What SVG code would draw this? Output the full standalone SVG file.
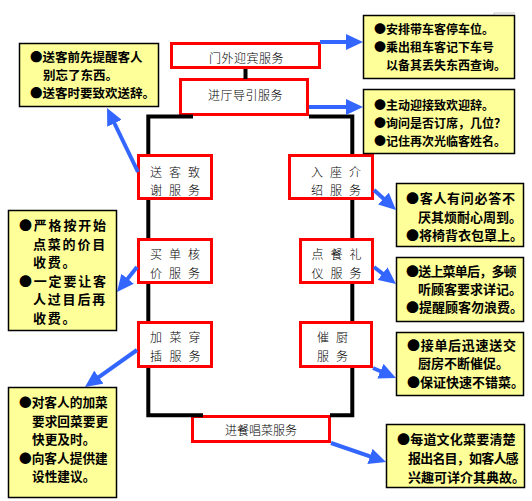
<svg xmlns="http://www.w3.org/2000/svg" width="532" height="501" viewBox="0 0 532 501">
<style>
.svc{fill:#FFFFFF;stroke:#FF0000;stroke-width:3}
.note{fill:#FFFF99;stroke:#000000;stroke-width:1.5}
.lbl{font-family:"Noto Sans CJK SC","Noto Sans CJK JP",sans-serif;font-size:12px;font-weight:300;fill:#000}
.nt{font-family:"Noto Sans CJK SC","Noto Sans CJK JP",sans-serif;font-weight:700;fill:#000}
.flow{fill:none;stroke:#000;stroke-width:4}
.arr{fill:none;stroke:#3366FF;stroke-width:4;marker-end:url(#ah)}
</style>
<defs>
<marker id="ah" markerUnits="userSpaceOnUse" viewBox="0 0 17 16" markerWidth="17" markerHeight="16" refX="7" refY="8" orient="auto">
<path d="M0,0 L17,8 L0,16 z" fill="#3366FF"/>
</marker>
</defs>
<rect width="532" height="501" fill="#FFFFFF"/>
<path d="M494,15 V13 H515" fill="none" stroke="#C8C8C8" stroke-width="1"/>

<g id="svc-menwai"><rect class="svc" x="171.5" y="43.5" width="148" height="24"/><text class="lbl" x="246.5" y="62.5" text-anchor="middle" letter-spacing="0.5">门外迎宾服务</text></g>
<g id="svc-jinting"><rect class="svc" x="180.5" y="79.5" width="127" height="35"/><text class="lbl" x="245.5" y="99.5" text-anchor="middle" letter-spacing="0.5">进厅导引服务</text></g>
<g id="svc-songke"><rect class="svc" x="138.5" y="155.5" width="73" height="43"/><text class="lbl" x="150 169 188" y="176.5">送客致</text><text class="lbl" x="150 169 188" y="194.5">谢服务</text></g>
<g id="svc-ruzuo"><rect class="svc" x="289.5" y="155.5" width="83" height="43"/><text class="lbl" x="311 330 349" y="176.5">入座介</text><text class="lbl" x="311 330 349" y="194.5">绍服务</text></g>
<g id="svc-maidan"><rect class="svc" x="138.5" y="239.5" width="73" height="43"/><text class="lbl" x="150 169 188" y="258.5">买单核</text><text class="lbl" x="150 169 188" y="277.5">价服务</text></g>
<g id="svc-diancan"><rect class="svc" x="300.5" y="239.5" width="72" height="43"/><text class="lbl" x="311.5 330.5 349.5" y="258.5">点餐礼</text><text class="lbl" x="311.5 330.5 349.5" y="277.5">仪服务</text></g>
<g id="svc-jiacai"><rect class="svc" x="138.5" y="322.5" width="73" height="44"/><text class="lbl" x="150 169.5 188.5" y="341.5">加菜穿</text><text class="lbl" x="150 169.5 188.5" y="360.5">插服务</text></g>
<g id="svc-cuichu"><rect class="svc" x="300.5" y="322.5" width="71" height="44"/><text class="lbl" x="317 336" y="341.5">催厨</text><text class="lbl" x="317 336" y="360.5">服务</text></g>
<g id="svc-changcai"><rect class="svc" x="192.5" y="416.5" width="137" height="25"/><text class="lbl" x="261" y="434.5" text-anchor="middle">进餐唱菜服务</text></g>

<g id="connectors">
<path class="flow" d="M245.5,69 V79"/>
<path class="flow" d="M193,116.5 H148.3 V154"/>
<path class="flow" d="M148.3,200 V238"/>
<path class="flow" d="M148.3,284 V321"/>
<path class="flow" d="M148.3,368 V415.3 H203"/>
<path class="flow" d="M309,116.5 H352.3 V154"/>
<path class="flow" d="M352.3,200 V238"/>
<path class="flow" d="M352.3,284 V321"/>
<path class="flow" d="M352.3,368 V415.3 H330"/>
<path class="arr" d="M320,42 H353"/>
<path class="arr" d="M309,107 H353"/>
<path class="arr" d="M138,172 L111.4,117"/>
<path class="arr" d="M137,267 L123.25,284.2"/>
<path class="arr" d="M137,350 L93.15,381.2"/>
<path class="arr" d="M374,190 L388.6,203.3"/>
<path class="arr" d="M374,267 L388.1,277.9"/>
<path class="arr" d="M373,368 L386.8,374"/>
<path class="arr" d="M331,443 L376.55,458.7"/>
</g>

<g id="note-songke"><rect class="note" x="19.5" y="43.5" width="139" height="63"/>
<text class="nt" font-size="12.5"><tspan x="30" y="61.5">●送客前先提醒客人</tspan><tspan x="43" y="79.5">别忘了东西。</tspan><tspan x="30" y="97.5">●送客时要致欢送辞。</tspan></text></g>
<g id="note-menwai"><rect class="note" x="363.5" y="15.5" width="151" height="63"/>
<text class="nt" font-size="12"><tspan x="374" y="33.5">●安排带车客停车位。</tspan><tspan x="374" y="51.5">●乘出租车客记下车号</tspan><tspan x="386" y="69.5">以备其丢失东西查询。</tspan></text></g>
<g id="note-jinting"><rect class="note" x="363.5" y="89.5" width="151" height="64"/>
<text class="nt" font-size="12"><tspan x="374" y="109.5">●主动迎接致欢迎辞。</tspan><tspan x="374" y="127.5">●询问是否订席，几位？</tspan><tspan x="374" y="146">●记住再次光临客姓名。</tspan></text></g>
<g id="note-maidan"><rect class="note" x="8.5" y="210.5" width="108" height="120"/>
<text class="nt" font-size="13" letter-spacing="1.8"><tspan x="19" y="230">●严格按开始</tspan><tspan x="33" y="249">点菜的价目</tspan><tspan x="33" y="267">收费。</tspan><tspan x="19" y="286">●一定要让客</tspan><tspan x="33" y="304">人过目后再</tspan><tspan x="33" y="323">收费。</tspan></text></g>
<g id="note-jiacai"><rect class="note" x="8.5" y="387.5" width="108" height="110"/>
<text class="nt" font-size="12.7"><tspan x="19" y="407">●对客人的加菜</tspan><tspan x="32" y="426">要求回菜要更</tspan><tspan x="32" y="444">快更及时。</tspan><tspan x="19" y="463">●向客人提供建</tspan><tspan x="32" y="481">设性建议。</tspan></text></g>
<g id="note-ruzuo"><rect class="note" x="396.5" y="183.5" width="127" height="63"/>
<text class="nt" font-size="13"><tspan x="406" y="203" letter-spacing="0.7">●客人有问必答不</tspan><tspan x="418" y="222">厌其烦耐心周到。</tspan><tspan x="406" y="240">●将椅背衣包罩上。</tspan></text></g>
<g id="note-diancan"><rect class="note" x="396.5" y="257.5" width="127" height="64"/>
<text class="nt" font-size="13"><tspan x="406" y="276" letter-spacing="-0.8">●送上菜单后，多顿</tspan><tspan x="418" y="294">听顾客要求详记。</tspan><tspan x="406" y="312">●提醒顾客勿浪费。</tspan></text></g>
<g id="note-cuichu"><rect class="note" x="396.5" y="332.5" width="127" height="63"/>
<text class="nt" font-size="13"><tspan x="407" y="350" letter-spacing="0.7">●接单后迅速送交</tspan><tspan x="418" y="368">厨房不断催促。</tspan><tspan x="407" y="387">●保证快速不错菜。</tspan></text></g>
<g id="note-changcai"><rect class="note" x="386.5" y="424.5" width="138" height="63"/>
<text class="nt" font-size="13"><tspan x="397" y="444" letter-spacing="0.2">●每道文化菜要清楚</tspan><tspan x="408" y="463" letter-spacing="-0.8">报出名目，如客人感</tspan><tspan x="408" y="482">兴趣可详介其典故。</tspan></text></g>
</svg>
